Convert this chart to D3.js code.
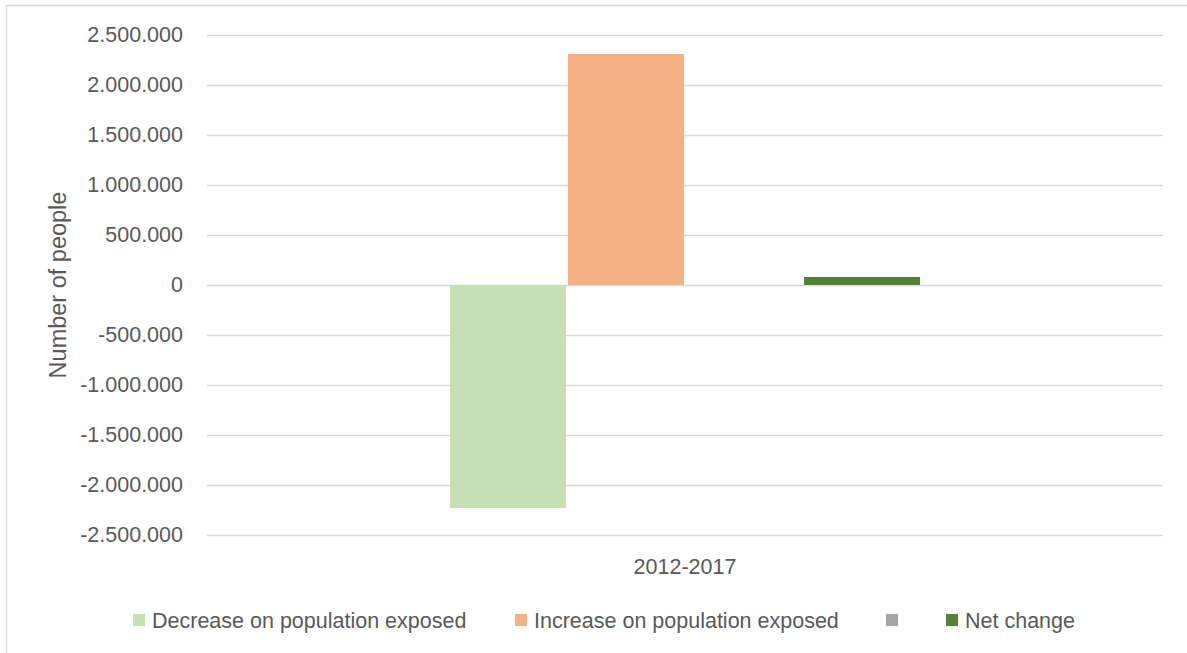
<!DOCTYPE html>
<html>
<head>
<meta charset="utf-8">
<script src="https://cdn.jsdelivr.net/npm/d3@7"></script>
<style>
  html, body { margin: 0; padding: 0; background: #fff; }
  svg { display: block; }
  text { font-family: "Liberation Sans", Arial, sans-serif; fill: #595959; }
</style>
</head>
<body>
<svg id="chart" width="1187" height="653"></svg>
<script>
const categories = ["2012-2017"];
const seriesNames = ["Decrease on population exposed", "Increase on population exposed", "", "Net change"];
const seriesValues = [-2230000, 2310000, null, 80000];
const seriesColors = ["#C5E0B4", "#F4B183", "#A5A5A5", "#548235"];
const yTicks = [-2500000, -2000000, -1500000, -1000000, -500000, 0, 500000, 1000000, 1500000, 2000000, 2500000];
const yTitle = "Number of people";

const svg = d3.select("#chart");
const W = 1187, H = 653;
const plot = { left: 207, right: 1163, top: 35, bottom: 535 };
const FS = "21.5px";

// chart border
svg.append("path")
  .attr("d", `M6.5,${H} L6.5,5.5 L${W},5.5`)
  .attr("fill", "none").attr("stroke", "#D9D9D9").attr("stroke-width", 1.3);

const locale = d3.formatLocale({ decimal: ",", thousands: ".", grouping: [3], currency: ["", ""], minus: "-" });
const fmt = locale.format(",.0f");

const y = d3.scaleLinear().domain([-2500000, 2500000]).range([plot.bottom, plot.top]);
const x0 = d3.scaleBand().domain(categories).range([plot.left, plot.right]).paddingInner(0).paddingOuter(0.517);
const x1 = d3.scaleBand().domain(d3.range(seriesNames.length)).range([0, x0.bandwidth()]).paddingInner(0.017);

// gridlines + tick labels
const yAxis = d3.axisLeft(y).tickValues(yTicks).tickFormat(fmt)
  .tickSize(-(plot.right - plot.left)).tickPadding(24);
const gy = svg.append("g").attr("transform", `translate(${plot.left},0)`).call(yAxis);
gy.select(".domain").remove();
gy.selectAll(".tick line").attr("stroke", "#D9D9D9").attr("stroke-width", 1.3);
gy.selectAll(".tick text")
  .style("font-family", '"Liberation Sans", Arial, sans-serif')
  .style("font-size", FS).attr("fill", "#595959");

// bars
const groups = svg.append("g").selectAll("g").data(categories).join("g")
  .attr("transform", d => `translate(${x0(d)},0)`);
groups.selectAll("rect")
  .data(() => seriesValues.map((v, i) => ({ v, i })).filter(d => d.v !== null))
  .join("rect")
  .attr("x", d => x1(d.i))
  .attr("width", x1.bandwidth())
  .attr("y", d => y(Math.max(0, d.v)))
  .attr("height", d => Math.abs(y(d.v) - y(0)))
  .attr("fill", d => seriesColors[d.i]);

// category axis label
const xAxis = d3.axisBottom(x0).tickSize(0).tickPadding(24);
const gx = svg.append("g").attr("transform", `translate(0,${plot.bottom})`).call(xAxis);
gx.select(".domain").remove();
gx.selectAll(".tick text")
  .style("font-family", '"Liberation Sans", Arial, sans-serif')
  .style("font-size", FS).attr("fill", "#595959");

// y title
svg.append("text")
  .attr("transform", `translate(66,${(plot.top + plot.bottom) / 2}) rotate(-90)`)
  .attr("text-anchor", "middle")
  .style("font-size", "23.5px")
  .text(yTitle);

// legend
const legendX = [133, 515, 886, 946];
const lg = svg.append("g").attr("transform", "translate(0,620)");
seriesNames.forEach((name, i) => {
  const g = lg.append("g").attr("transform", `translate(${legendX[i]},0)`);
  g.append("rect").attr("x", 0).attr("y", -6).attr("width", 12).attr("height", 12).attr("fill", seriesColors[i]);
  g.append("text").attr("x", 19).attr("y", 0).attr("dy", "0.35em")
    .style("font-size", FS).text(name);
});
</script>
</body>
</html>
